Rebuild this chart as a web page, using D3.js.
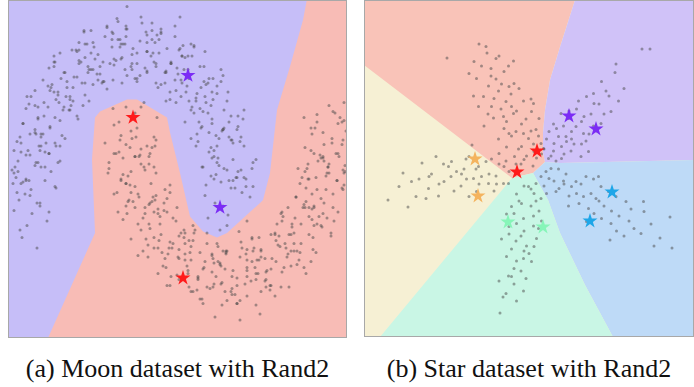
<!DOCTYPE html>
<html><head><meta charset="utf-8">
<script src="https://cdn.jsdelivr.net/npm/d3@7"></script>
<style>body{margin:0;background:#fff}svg{display:block}</style>
</head><body>
<svg id="c" width="694" height="387"></svg>
<script>
// ---------------- DATA ----------------
const captions = ["(a) Moon dataset with Rand2", "(b) Star dataset with Rand2"];

// Moon dataset: upper moon (class purple)
const moonUpper = [
[1.05,0.08],[0.97,-0.17],[1.20,0.02],[1.09,-0.21],[0.78,-0.12],[1.17,-0.14],[0.85,-0.02],[1.14,0.15],[0.90,-0.20],[0.99,0.13],
[0.91,0.12],[0.82,0.28],[1.01,0.08],[0.94,0.21],[1.23,0.09],[1.10,0.39],[0.73,0.22],[1.06,0.15],[1.26,0.27],[0.87,0.36],
[1.08,0.49],[1.14,0.36],[1.03,0.13],[0.72,0.22],[1.11,0.20],[0.79,0.32],[0.99,0.42],[0.84,0.14],[0.93,0.47],[0.68,0.39],
[0.84,0.33],[0.75,0.69],[1.11,0.42],[0.79,0.45],[0.98,0.72],[0.94,0.48],[0.70,0.61],[1.14,0.60],[0.82,0.54],[0.89,0.41],
[0.55,0.52],[0.76,0.77],[0.67,0.44],[0.82,0.72],[0.91,0.79],[0.86,0.43],[0.51,0.69],[0.97,0.66],[0.62,0.62],[1.01,0.56],
[0.47,0.88],[0.59,0.81],[0.81,0.63],[0.56,0.72],[0.52,0.96],[0.75,0.99],[0.91,0.87],[0.61,0.60],[0.66,0.68],[0.71,0.75],
[0.55,0.95],[0.70,0.89],[0.74,0.79],[0.49,1.00],[0.64,1.02],[0.35,0.85],[0.59,0.66],[0.24,0.92],[0.40,0.67],[0.28,0.75],
[0.26,0.89],[0.36,0.85],[0.45,1.16],[0.61,1.04],[0.31,0.77],[0.22,1.13],[0.51,0.80],[0.29,0.98],[0.17,1.05],[0.41,0.92],
[0.31,1.14],[0.26,0.78],[-0.05,0.87],[0.16,1.12],[0.07,0.79],[0.37,1.01],[0.22,1.07],[-0.09,1.04],[0.02,0.97],[0.41,0.91],
[-0.17,1.11],[-0.12,1.19],[-0.05,1.04],[0.11,1.22],[0.17,0.86],[0.07,0.98],[0.27,1.10],[-0.08,0.95],[-0.03,0.83],[0.02,0.91],
[-0.12,1.07],[0.03,1.01],[-0.39,0.87],[-0.43,1.04],[-0.18,1.12],[-0.32,0.97],[-0.27,0.79],[-0.03,1.14],[-0.08,0.78],[0.07,0.91],
[-0.42,0.89],[-0.37,0.77],[-0.51,1.05],[-0.46,1.13],[-0.39,0.98],[-0.23,1.16],[-0.17,0.80],[-0.27,0.92],[-0.07,1.04],[-0.56,0.82],
[-0.36,1.02],[-0.48,0.78],[-0.41,0.66],[-0.26,0.79],[-0.76,0.92],[-0.51,1.00],[-0.65,0.85],[-0.60,0.67],[-0.45,0.95],[-0.30,0.89],
[-0.72,0.72],[-0.81,0.88],[-0.76,0.96],[-0.69,0.81],[-0.86,0.65],[-0.53,0.99],[-0.47,0.63],[-0.57,0.75],[-0.37,0.87],[-0.67,0.60],
[-0.72,0.70],[-0.63,0.79],[-0.57,0.66],[-0.68,0.43],[-0.53,0.56],[-1.03,0.69],[-0.78,0.77],[-0.92,0.62],[-0.87,0.44],[-0.75,0.55],
[-0.95,0.45],[-0.90,0.33],[-1.04,0.61],[-0.99,0.69],[-0.92,0.54],[-1.09,0.38],[-0.76,0.72],[-0.70,0.36],[-0.80,0.48],[-0.60,0.60],
[-0.89,0.42],[-0.80,0.49],[-0.74,0.36],[-0.92,0.25],[-0.85,0.13],[-0.70,0.26],[-1.13,0.39],[-0.95,0.47],[-1.09,0.32],[-1.04,0.14],
[-0.94,0.25],[-1.07,0.12],[-0.79,0.19],[-0.90,-0.04],[-0.75,0.09],[-1.13,0.05],[-1.15,0.22],[-1.00,0.30],[-1.14,0.15],[-0.85,0.32],
[-1.03,-0.17],[-1.17,0.11],[-0.98,-0.09],[-1.12,0.19],[-1.05,0.04],[-0.89,0.22],[-0.83,-0.14],[-0.93,-0.02],[-1.10,-0.20],[-1.01,0.13],
[-1.08,-0.25],[-0.93,-0.32],[-0.03,1.29],[0.50,1.22],
[1.12,0.05],[0.81,0.16],[1.03,0.27],[0.93,-0.04],[1.22,0.21],[0.75,0.03],[1.16,0.14],[0.98,-0.10],[1.08,0.19],[0.87,0.25],
[1.16,0.09],[0.88,0.28],[0.97,0.20],[0.76,0.10],[1.23,0.25],[0.93,0.47],[1.07,0.15],[0.81,0.35],[1.02,0.40],[0.86,0.17],
[1.03,0.38],[0.72,0.49],[0.94,0.60],[0.84,0.29],[1.13,0.54],[0.66,0.36],[1.07,0.47],[0.89,0.23],[0.99,0.52],[0.78,0.58],
[1.01,0.40],[0.73,0.59],[0.82,0.51],[0.61,0.41],[1.08,0.56],[0.78,0.78],[0.92,0.46],[0.66,0.66],[0.87,0.71],[0.71,0.48],
[0.83,0.67],[0.52,0.78],[0.74,0.89],[0.64,0.58],[0.93,0.83],[0.46,0.65],[0.87,0.76],[0.69,0.52],[0.79,0.81],[0.58,0.87],
[0.76,0.65],[0.48,0.84],[0.57,0.76],[0.36,0.66],[0.83,0.81],[0.53,1.03],[0.67,0.71],[0.41,0.91],[0.62,0.96],[0.46,0.73],
[0.54,0.87],[0.23,0.98],[0.45,1.09],[0.35,0.78],[0.64,1.03],[0.17,0.85],[0.58,0.96],[0.40,0.72],[0.50,1.01],[0.29,1.07],
[0.45,0.80],[0.17,0.99],[0.26,0.91],[0.05,0.81],[0.52,0.96],[0.22,1.18],[0.36,0.86],[0.10,1.06],[0.31,1.11],[0.15,0.88],
[0.21,0.96],[-0.10,1.07],[0.12,1.18],[0.02,0.87],[0.31,1.12],[-0.16,0.94],[0.25,1.05],[0.07,0.81],[0.17,1.10],[-0.04,1.16],
[0.10,0.83],[-0.18,1.02],[-0.09,0.94],[-0.30,0.84],[0.17,0.99],[-0.13,1.21],[0.01,0.89],[-0.25,1.09],[-0.04,1.14],[-0.20,0.91],
[-0.14,0.93],[-0.45,1.04],[-0.23,1.15],[-0.33,0.84],[-0.04,1.09],[-0.51,0.91],[-0.10,1.02],[-0.28,0.78],[-0.18,1.07],[-0.39,1.13],
[-0.23,0.74],[-0.51,0.93],[-0.42,0.85],[-0.63,0.75],[-0.16,0.90],[-0.46,1.12],[-0.32,0.80],[-0.58,1.00],[-0.37,1.05],[-0.53,0.82],
[-0.45,0.78],[-0.76,0.89],[-0.54,1.00],[-0.64,0.69],[-0.35,0.94],[-0.82,0.76],[-0.41,0.87],[-0.59,0.63],[-0.49,0.92],[-0.70,0.98],
[-0.52,0.54],[-0.80,0.73],[-0.71,0.65],[-0.92,0.55],[-0.45,0.70],[-0.75,0.92],[-0.61,0.60],[-0.87,0.80],[-0.66,0.85],[-0.82,0.62],
[-0.70,0.53],[-1.01,0.64],[-0.79,0.75],[-0.89,0.44],[-0.60,0.69],[-1.07,0.51],[-0.66,0.62],[-0.84,0.38],[-0.74,0.67],[-0.95,0.73],
[-0.72,0.25],[-1.00,0.44],[-0.91,0.36],[-1.12,0.26],[-0.65,0.41],[-0.95,0.63],[-0.81,0.31],[-1.07,0.51],[-0.86,0.56],[-1.02,0.33],
[-0.85,0.22],[-1.16,0.33],[-0.94,0.44],[-1.04,0.13],[-0.75,0.38],[-1.18,0.20],[-0.81,0.31],[-0.99,0.07],[-0.89,0.36],[-1.10,0.42],
[-0.81,-0.08],[-1.09,0.11],[-1.00,0.03],[-1.16,-0.07],[-0.74,0.08],[-1.04,0.30],[-0.90,-0.02],[-1.16,0.18],[-0.95,0.23],[-1.11,0.00]
];
// Moon dataset: lower moon (class red)
const moonLower = [
[0.05,0.58],[0.14,0.65],[-0.17,0.61],[0.02,0.41],[0.09,0.29],[0.24,0.42],[0.11,0.62],[0.17,0.36],[0.07,0.48],[0.27,0.55],
[-0.07,0.28],[-0.02,0.16],[0.22,0.35],[-0.11,0.52],[-0.04,0.37],[-0.21,0.21],[-0.25,0.38],[0.01,0.46],[-0.14,0.31],[-0.09,0.13],
[0.11,0.24],[0.03,-0.01],[0.26,0.18],[0.15,-0.05],[-0.16,0.04],[0.23,0.02],[-0.09,0.14],[0.20,0.31],[-0.04,-0.04],[0.05,0.29],
[0.05,-0.05],[-0.04,0.11],[0.15,-0.09],[0.08,0.04],[0.37,-0.08],[0.24,0.22],[-0.13,0.05],[0.20,-0.02],[0.40,0.10],[0.01,0.19],
[0.37,0.01],[0.43,-0.12],[0.32,-0.35],[0.01,-0.26],[0.40,-0.28],[0.08,-0.16],[0.28,-0.06],[0.13,-0.34],[0.22,-0.01],[-0.03,-0.09],
[0.33,-0.44],[0.24,-0.08],[0.60,-0.35],[0.28,-0.32],[0.47,-0.05],[0.43,-0.29],[0.19,-0.16],[0.63,-0.17],[0.31,-0.23],[0.38,-0.36],
[0.28,-0.49],[0.49,-0.24],[0.40,-0.57],[0.55,-0.29],[0.64,-0.22],[0.59,-0.58],[0.24,-0.32],[0.70,-0.35],[0.35,-0.39],[0.74,-0.45],
[0.49,-0.33],[0.61,-0.40],[0.83,-0.58],[0.58,-0.49],[0.54,-0.25],[0.77,-0.22],[0.93,-0.34],[0.63,-0.61],[0.68,-0.53],[0.73,-0.46],
[0.88,-0.41],[1.03,-0.47],[1.07,-0.57],[0.82,-0.36],[0.97,-0.34],[0.68,-0.51],[0.92,-0.70],[0.57,-0.44],[0.73,-0.69],[0.61,-0.61],
[0.92,-0.55],[1.02,-0.59],[1.11,-0.28],[1.27,-0.40],[0.97,-0.67],[0.88,-0.31],[1.17,-0.64],[0.95,-0.46],[0.83,-0.39],[1.07,-0.52],
[1.31,-0.34],[1.26,-0.70],[0.95,-0.61],[1.16,-0.36],[1.07,-0.69],[1.37,-0.47],[1.22,-0.41],[0.91,-0.44],[1.02,-0.51],[1.41,-0.57],
[1.17,-0.33],[1.22,-0.25],[1.29,-0.40],[1.45,-0.22],[1.51,-0.58],[1.41,-0.46],[1.61,-0.34],[1.26,-0.49],[1.31,-0.61],[1.36,-0.53],
[1.55,-0.29],[1.70,-0.35],[1.28,-0.49],[1.24,-0.32],[1.49,-0.24],[1.35,-0.39],[1.40,-0.57],[1.64,-0.22],[1.59,-0.58],[1.74,-0.45],
[1.56,-0.32],[1.61,-0.44],[1.47,-0.16],[1.52,-0.08],[1.59,-0.23],[1.75,-0.05],[1.81,-0.41],[1.71,-0.29],[1.91,-0.17],[1.42,-0.39],
[1.91,0.01],[1.79,-0.23],[1.86,-0.35],[2.01,-0.22],[1.51,-0.09],[1.76,-0.01],[1.62,-0.16],[1.67,-0.34],[1.82,-0.06],[1.97,-0.12],
[1.79,-0.05],[1.70,0.11],[1.75,0.19],[1.82,0.04],[1.65,-0.12],[1.98,0.22],[2.04,-0.14],[1.94,-0.02],[2.14,0.10],[1.84,-0.17],
[1.99,0.24],[2.08,0.31],[2.14,0.18],[2.03,-0.05],[2.12,0.08],[1.68,0.21],[1.93,0.29],[1.79,0.14],[1.84,-0.04],[1.96,0.07],
[1.91,0.28],[1.96,0.16],[1.82,0.44],[1.87,0.52],[1.94,0.37],[1.77,0.21],[2.10,0.55],[2.15,0.19],[2.06,0.31],[1.84,0.31],
[2.05,0.58],[2.14,0.65],[2.12,0.52],[2.02,0.41],[2.09,0.29],[2.13,0.40],[1.74,0.55],[1.99,0.63],[1.85,0.48],[1.90,0.30],
[0.85,-0.78],[1.10,-0.80],[1.30,-0.76],
[-0.11,0.32],[0.05,0.55],[-0.16,0.50],[0.10,0.30],[-0.04,0.62],[0.26,0.40],[-0.21,0.25],[0.00,0.35],[-0.09,0.43],[0.19,0.24],
[-0.10,0.40],[0.11,0.34],[0.01,0.05],[0.19,0.29],[-0.22,0.18],[0.25,0.36],[-0.04,0.11],[0.06,0.42],[-0.16,0.31],[0.15,0.20],
[-0.02,-0.01],[0.14,0.22],[-0.07,0.17],[0.19,-0.03],[0.05,0.29],[0.35,0.07],[-0.12,-0.08],[0.09,0.02],[0.00,0.10],[0.28,-0.09],
[0.05,0.09],[0.26,0.03],[0.16,-0.26],[0.34,-0.02],[-0.07,-0.13],[0.40,0.05],[0.11,-0.20],[0.21,0.11],[-0.01,0.00],[0.30,-0.11],
[0.18,-0.30],[0.34,-0.07],[0.13,-0.12],[0.39,-0.32],[0.25,0.00],[0.55,-0.22],[0.08,-0.37],[0.29,-0.27],[0.20,-0.19],[0.48,-0.38],
[0.30,-0.16],[0.51,-0.22],[0.41,-0.51],[0.59,-0.27],[0.18,-0.38],[0.65,-0.20],[0.36,-0.45],[0.46,-0.14],[0.24,-0.25],[0.55,-0.36],
[0.47,-0.50],[0.63,-0.27],[0.42,-0.32],[0.68,-0.52],[0.54,-0.20],[0.84,-0.42],[0.37,-0.57],[0.58,-0.47],[0.49,-0.39],[0.77,-0.58],
[0.61,-0.31],[0.82,-0.37],[0.72,-0.66],[0.90,-0.42],[0.49,-0.53],[0.96,-0.35],[0.67,-0.60],[0.77,-0.29],[0.55,-0.40],[0.86,-0.51],
[0.80,-0.59],[0.96,-0.36],[0.75,-0.41],[1.01,-0.61],[0.87,-0.29],[1.17,-0.51],[0.70,-0.66],[0.91,-0.56],[0.82,-0.48],[1.10,-0.67],
[0.96,-0.34],[1.17,-0.40],[1.07,-0.69],[1.25,-0.45],[0.84,-0.56],[1.31,-0.38],[1.02,-0.63],[1.12,-0.32],[0.90,-0.43],[1.21,-0.54],
[1.15,-0.56],[1.31,-0.33],[1.10,-0.38],[1.36,-0.58],[1.22,-0.26],[1.52,-0.48],[1.05,-0.63],[1.26,-0.53],[1.17,-0.45],[1.45,-0.64],
[1.29,-0.25],[1.50,-0.31],[1.40,-0.60],[1.58,-0.36],[1.17,-0.47],[1.64,-0.29],[1.35,-0.54],[1.45,-0.23],[1.23,-0.34],[1.54,-0.45],
[1.46,-0.41],[1.62,-0.18],[1.41,-0.23],[1.67,-0.43],[1.53,-0.11],[1.83,-0.33],[1.36,-0.48],[1.57,-0.38],[1.48,-0.30],[1.76,-0.49],
[1.58,-0.05],[1.79,-0.11],[1.69,-0.40],[1.87,-0.16],[1.46,-0.27],[1.93,-0.09],[1.64,-0.34],[1.74,-0.03],[1.52,-0.14],[1.83,-0.25],
[1.71,-0.16],[1.87,0.07],[1.66,0.02],[1.92,-0.18],[1.78,0.14],[2.08,-0.08],[1.61,-0.23],[1.82,-0.13],[1.73,-0.05],[2.01,-0.24],
[1.78,0.24],[1.99,0.18],[1.89,-0.11],[2.07,0.13],[1.66,0.02],[2.13,0.20],[1.84,-0.05],[1.94,0.26],[1.72,0.15],[2.03,0.04],
[1.86,0.15],[2.02,0.38],[1.81,0.33],[2.07,0.13],[1.93,0.45],[2.15,0.23],[1.76,0.08],[1.97,0.18],[1.88,0.26],[2.13,0.07],
[1.87,0.57],[2.08,0.51],[1.98,0.22],[2.16,0.46],[1.75,0.35],[2.14,0.53],[1.93,0.28],[2.03,0.59],[1.81,0.48],[2.12,0.37]
];
// Moon selected centres (stars)
const moonStarsPurple = [[0.58,0.83],[0.90,-0.05]];
const moonStarsRed = [[0.03,0.55],[0.53,-0.52]];
// Moon decision boundary (edge of red region)
const moonBoundary = [
[-0.82,-0.92],[-0.35,-0.22],[-0.38,0.27],[-0.35,0.55],[-0.30,0.59],[-0.03,0.67],[0.07,0.67],[0.37,0.55],
[0.40,0.45],[0.50,0.18],[0.60,-0.11],[0.73,-0.21],[0.87,-0.25],[0.97,-0.22],[1.30,-0.02],[1.33,0.00],
[1.40,0.18],[1.47,0.60],[1.60,0.89],[1.73,1.20],[1.77,1.34]
];

// Star dataset: points per arm
const starRed = [
[-0.12,0.21],[0.08,0.37],[-0.31,0.27],[0.22,0.53],[-0.47,0.46],[-0.03,0.63],[0.27,0.43],[-0.18,0.12],[0.06,0.08],[-0.62,0.33],[0.13,0.24],[-0.37,0.68],
[-0.52,0.83],[-0.17,0.92],[0.12,0.81],[-0.73,1.04],[-0.33,1.13],[0.03,1.17],[-0.92,0.88],[-0.58,1.22],[0.18,1.03],[-0.13,0.73],[-0.47,0.97],[-0.84,1.12],[0.07,1.33],[-0.28,0.77],
[-0.72,1.43],[-0.38,1.52],[-1.03,1.27],[-0.22,1.63],[-0.83,1.68],[-0.57,1.72],[-1.13,1.48],[0.02,1.42],[-0.37,1.27],[-0.63,1.58],[-1.07,1.83],
[-0.78,2.03],[-1.12,2.17],[-0.62,2.28],[-0.88,2.47],[-0.43,2.08],[-1.22,1.93],[-0.68,2.23],[-1.66,2.24],[-0.86,2.34],
[-0.17,0.47],[0.07,0.52],[-0.42,0.73],[-0.08,1.02],[-0.53,1.07],[0.17,0.68],[-0.27,1.18],[-0.77,1.27],[-0.48,1.37],[-0.13,1.38],[-0.93,1.47],
[-0.32,1.73],[-0.68,1.82],[-0.97,2.08],[-0.52,1.97],[-0.23,0.42],[0.02,0.78],[-0.63,0.62],[-0.42,1.67],[-0.78,1.88],[-0.07,0.28],[0.23,0.32],[-0.48,0.18],[-1.02,2.52],[-0.33,2.18]
];
const starPurple = [
[0.42,0.28],[0.63,0.23],[0.48,0.53],[0.82,0.38],[0.33,0.62],[0.72,0.67],[1.03,0.52],[0.53,0.83],[0.92,0.87],[1.18,0.72],[0.77,1.03],[1.08,1.07],
[1.42,0.93],[0.93,1.22],[1.28,1.33],[1.62,1.17],[1.13,1.47],[1.52,1.58],[0.47,0.92],[0.28,0.42],[1.02,0.27],[0.63,0.47],[1.27,0.88],[0.83,0.62],
[1.77,1.38],[1.43,1.77],[1.70,1.95],[1.72,2.12],[2.24,2.42],[2.40,2.42],[1.88,1.63],[0.62,1.13],[1.07,0.73],[0.52,0.18],
[0.47,0.38],[0.57,0.67],[0.68,0.32],[0.88,0.52],[0.38,0.77],[0.67,0.88],[0.83,0.77],[1.12,0.58],[0.78,1.18],[1.03,0.97],
[1.22,1.12],[1.33,0.78],[1.48,1.12],[1.27,1.53],[1.58,1.48],[0.37,0.23],[0.73,0.57],[1.17,0.37],[0.97,1.38],[1.38,1.32]
];
const starBlue = [
[0.32,-0.03],[0.48,-0.22],[0.42,0.03],[0.72,-0.08],[0.58,-0.37],[0.92,-0.23],[0.28,-0.32],[1.12,-0.13],[0.78,-0.52],[1.22,-0.47],[0.98,-0.67],
[1.42,-0.33],[1.48,-0.72],[1.28,-0.87],[1.72,-0.53],[1.78,-0.92],[1.62,-1.07],[2.02,-0.78],[2.08,-1.17],[1.88,-1.32],[2.42,-1.08],[2.28,-0.83],
[2.60,-1.36],[2.80,-0.94],[2.84,-1.56],[1.60,-1.40],[0.57,0.02],[0.93,-0.47],[1.27,-0.18],[2.48,-1.52],[0.22,-0.13],[0.77,-0.72],[1.13,-1.03],
[0.38,-0.17],[0.67,-0.22],[0.52,-0.43],[0.83,-0.33],[1.02,-0.28],[1.07,-0.53],[1.32,-0.57],[1.17,-0.77],[1.38,-0.62],[1.57,-0.43],
[1.63,-0.82],[1.43,-0.97],[1.92,-0.63],[1.98,-1.02],[2.22,-1.27],[0.33,-0.47],[0.68,-0.28],[1.37,-0.13],[1.73,-1.22],[2.27,-0.63]
];
const starGreen = [
[-0.12,-0.32],[0.08,-0.47],[-0.27,-0.48],[0.02,-0.72],[-0.37,-0.73],[0.18,-0.82],[-0.13,-0.97],[0.07,-1.12],[-0.42,-1.13],[-0.18,-1.32],
[0.13,-1.37],[-0.07,-1.52],[-0.37,-1.58],[-0.13,-1.77],[0.03,-1.83],[-0.32,-1.97],[-0.43,-2.12],[-0.08,-2.17],[-0.32,-2.28],[-0.48,-2.47],
[-0.54,-2.54],[-0.60,-2.86],[-0.22,-0.62],[0.23,-1.02],[-0.57,-1.38],[-0.27,-2.62],[0.12,-0.27],[-0.47,-0.88],[-0.02,-1.67],
[0.02,-0.38],[-0.17,-0.67],[0.12,-0.62],[-0.32,-0.87],[0.07,-0.92],[-0.12,-1.22],[0.17,-1.17],[-0.28,-1.42],[-0.12,-1.62],[0.08,-1.53],
[-0.27,-1.82],[-0.47,-1.73],[-0.18,-2.02],[-0.37,-2.13],[-0.13,-2.42],[-0.03,-0.33],[-0.27,-1.07],[0.22,-0.57],[-0.42,-1.28],[-0.62,-2.22]
];
const starYellow = [
[-0.42,-0.03],[-0.62,0.12],[-0.53,-0.27],[-0.82,-0.08],[-0.88,0.17],[-1.02,-0.28],[-1.08,0.02],[-1.27,-0.18],[-1.28,0.22],[-1.47,-0.03],
[-1.52,-0.42],[-1.63,0.07],[-1.72,-0.23],[-1.83,-0.52],[-1.97,-0.08],[-2.03,-0.37],[-2.16,0.14],[-2.28,-0.53],[-2.44,-0.74],[-2.54,-0.06],
[-2.84,-0.60],[-2.62,-0.33],[-1.16,0.50],[-0.72,-0.42],[-1.22,-0.53],[-0.28,0.12],[-1.88,0.27],[-2.22,-0.18],[-0.97,-0.13],
[-0.52,0.07],[-0.68,-0.12],[-0.77,0.22],[-0.83,-0.27],[-1.03,0.07],[-1.13,-0.17],[-1.22,0.27],[-1.37,-0.08],[-1.38,-0.32],[-1.57,0.17],
[-1.58,-0.13],[-1.82,-0.28],[-1.73,0.12],[-2.02,-0.13],[-2.08,-0.57],[-0.43,-0.27],[-0.67,-0.28],[-1.07,-0.43],[-2.37,-0.23],[-1.32,0.02]
];
// Star selected centres
const starCentres = {
  purple: [[0.78,1.08],[1.32,0.82]],
  red: [[0.14,0.38],[-0.26,-0.04]],
  orange: [[-1.10,0.22],[-1.04,-0.52]],
  green: [[-0.44,-1.04],[0.26,-1.14]],
  blue: [[1.64,-0.44],[1.20,-1.02]]
};
// Star decision boundaries
const jA = [0.30,0.16], jB = [0.06,-0.06], jC = [-0.36,-0.16];
const bRedPurple = [[0.30,0.16],[0.26,0.34],[0.26,0.74],[0.30,1.20],[0.40,1.80],[0.60,2.46],[0.90,3.40]];
const bPurpleBlue = [[0.30,0.16],[0.60,0.14],[3.28,0.20]];
const bBlueGreen = [[0.06,-0.06],[0.36,-0.60],[0.60,-1.26],[1.10,-2.30],[1.66,-3.34]];
const bGreenYellow = [[-0.36,-0.16],[-3.00,-3.34]];
const bYellowRed = [[-0.36,-0.16],[-3.32,2.10]];

// ---------------- DRAW ----------------
const svg = d3.select("#c");
const defs = svg.append("defs");

const L = {x0:8, x1:347, y0:0, y1:338};
const R = {x0:364, x1:694, y0:0, y1:337};

const xM = d3.scaleLinear().domain([-1.22, 2.17]).range([L.x0, L.x1]);
const yM = d3.scaleLinear().domain([-0.92, 1.333]).range([L.y1, L.y0]);
const xS = d3.scaleLinear().domain([-3.32, 3.28]).range([R.x0, R.x1]);
const yS = d3.scaleLinear().domain([-3.34, 3.40]).range([R.y1, R.y0]);

function clip(id, b){
  defs.append("clipPath").attr("id", id).append("rect")
    .attr("x", b.x0).attr("y", b.y0).attr("width", b.x1-b.x0).attr("height", b.y1-b.y0);
}
clip("cl", L); clip("cr", R);

const star = d3.symbol().type(d3.symbolStar).size(70);
const dotR = 1.5, dotFill = "#4a4a4a", dotOp = 0.5;

// ---- Left panel ----
const gL = svg.append("g").attr("clip-path", "url(#cl)");
const lineM = d3.line().x(d=>xM(d[0])).y(d=>yM(d[1]));
gL.append("rect").attr("x", L.x0).attr("y", L.y0).attr("width", L.x1-L.x0).attr("height", L.y1-L.y0)
  .attr("fill", "#c6bef8");
const [dx0, dx1] = xM.domain(), [dy0, dy1] = yM.domain();
const redPoly = moonBoundary.concat([[dx1+0.1, dy1+0.1],[dx1+0.1, dy0-0.1],[moonBoundary[0][0]-0.01, dy0-0.1]]);
gL.append("path").attr("d", lineM(redPoly)+"Z").attr("fill", "#f8bcb6");

gL.selectAll("circle.m").data(moonUpper.concat(moonLower)).join("circle")
  .attr("cx", d=>xM(d[0])).attr("cy", d=>yM(d[1])).attr("r", dotR)
  .attr("fill", dotFill).attr("fill-opacity", dotOp);

gL.selectAll("path.sp").data(moonStarsPurple).join("path")
  .attr("d", star).attr("transform", d=>`translate(${xM(d[0])},${yM(d[1])})`).attr("fill", "#7b2cf5");
gL.selectAll("path.sr").data(moonStarsRed).join("path")
  .attr("d", star).attr("transform", d=>`translate(${xM(d[0])},${yM(d[1])})`).attr("fill", "#ff1a1a");

svg.append("rect").attr("x", L.x0+0.5).attr("y", L.y0+0.5).attr("width", L.x1-L.x0-1).attr("height", L.y1-L.y0-1)
  .attr("fill", "none").attr("stroke", "#a8a8a8").attr("stroke-width", 1);

// ---- Right panel ----
const gR = svg.append("g").attr("clip-path", "url(#cr)");
const lineS = d3.line().x(d=>xS(d[0])).y(d=>yS(d[1]));
const [sx0, sx1] = xS.domain(), [sy0, sy1] = yS.domain();
const rev = a => a.slice().reverse();
const polys = [
  {fill:"#f6f0d4", pts: [[sx0,sy0],[sx0,sy1],[sx1,sy1],[sx1,sy0]]},
  {fill:"#f9c3b8", pts: rev(bYellowRed).concat([jB], bRedPurple, [[sx0-0.1, sy1+0.1]])},
  {fill:"#d0c2f8", pts: bRedPurple.concat([[sx1+0.1, sy1+0.1]], rev(bPurpleBlue))},
  {fill:"#bedaf7", pts: [jB].concat(bPurpleBlue, [[sx1+0.1, sy0-0.1]], rev(bBlueGreen))},
  {fill:"#c9f6e5", pts: [jC].concat(bBlueGreen, rev(bGreenYellow))}
];
gR.selectAll("path.reg").data(polys).join("path")
  .attr("d", d=>lineS(d.pts)+"Z").attr("fill", d=>d.fill);

gR.selectAll("circle.s").data([].concat(starRed, starPurple, starBlue, starGreen, starYellow)).join("circle")
  .attr("cx", d=>xS(d[0])).attr("cy", d=>yS(d[1])).attr("r", dotR)
  .attr("fill", dotFill).attr("fill-opacity", dotOp);

const starCol = {purple:"#7b2cf5", red:"#ff1a1a", orange:"#f4b35e", green:"#86f5b8", blue:"#1ea6e8"};
Object.keys(starCentres).forEach(k=>{
  gR.selectAll("path.c"+k).data(starCentres[k]).join("path")
    .attr("d", star).attr("transform", d=>`translate(${xS(d[0])},${yS(d[1])})`).attr("fill", starCol[k]);
});

svg.append("rect").attr("x", R.x0+0.5).attr("y", R.y0+0.5).attr("width", R.x1-R.x0-1).attr("height", R.y1-R.y0-1)
  .attr("fill", "none").attr("stroke", "#a8a8a8").attr("stroke-width", 1);

// ---- Captions ----
svg.selectAll("text.cap").data(captions).join("text")
  .attr("class", "cap")
  .attr("x", (d,i)=> i===0 ? (L.x0+L.x1)/2 : (R.x0+R.x1)/2)
  .attr("y", 377)
  .attr("text-anchor", "middle")
  .style("font-family", '"Liberation Serif", "DejaVu Serif", serif')
  .style("font-size", "26px")
  .attr("fill", "#111")
  .text(d=>d);
</script>
</body></html>
